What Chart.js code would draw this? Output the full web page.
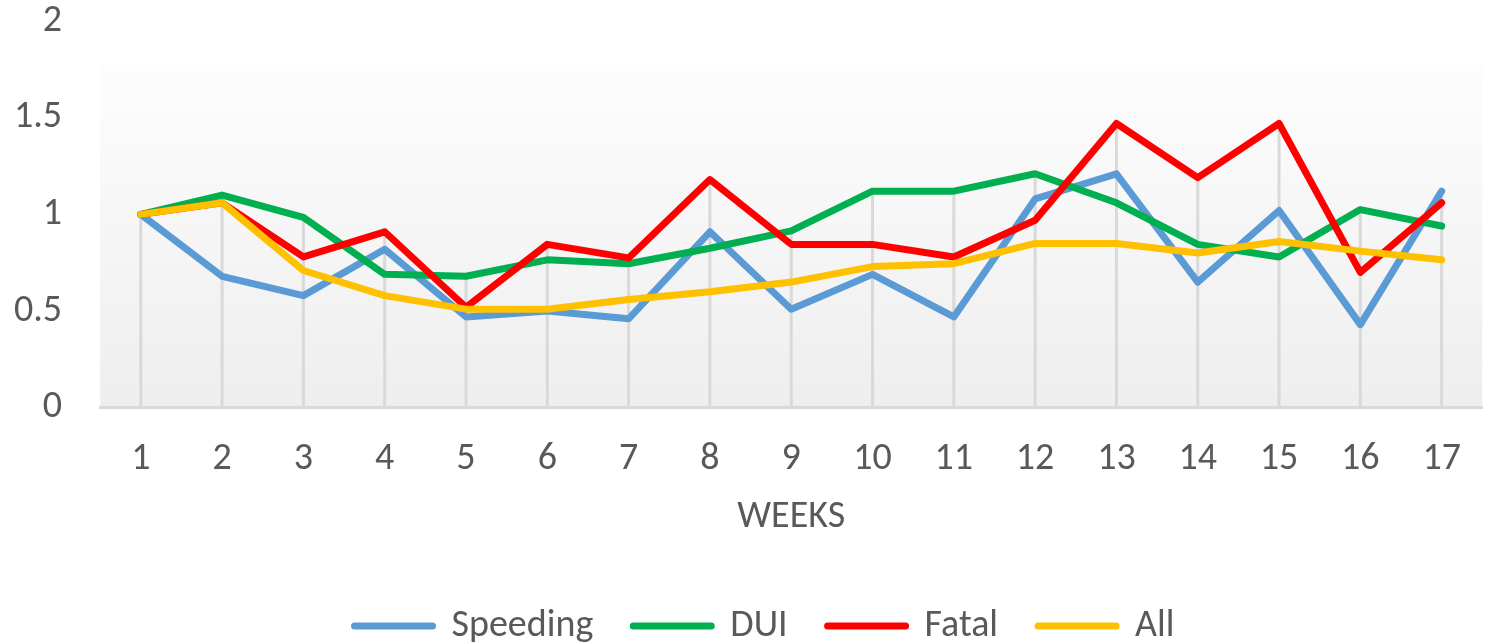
<!DOCTYPE html>
<html>
<head>
<meta charset="utf-8">
<script src="https://cdn.jsdelivr.net/npm/chart.js@4.4.0/dist/chart.umd.min.js"></script>
<style>
	body { margin: 0; background: #fff; }
	#wrap { width: 1490px; height: 644px; }
</style>
</head>
<body>
<div id="wrap"><canvas id="weeksChart"></canvas></div>
<script>
// Weekly ratios
const weeks = ['1', '2', '3', '4', '5', '6', '7', '8', '9', '10', '11', '12', '13', '14', '15', '16', '17'];
const speeding = [1.0, 0.68, 0.58, 0.82, 0.47, 0.5, 0.46, 0.91, 0.51, 0.69, 0.47, 1.08, 1.21, 0.65, 1.02, 0.43, 1.12];
const dui = [1.0, 1.1, 0.985, 0.69, 0.68, 0.765, 0.745, 0.825, 0.915, 1.12, 1.12, 1.21, 1.06, 0.845, 0.78, 1.025, 0.94];
const fatal = [1.0, 1.06, 0.78, 0.91, 0.52, 0.845, 0.775, 1.18, 0.845, 0.845, 0.78, 0.97, 1.47, 1.19, 1.47, 0.7, 1.06];
const all = [1.0, 1.06, 0.71, 0.58, 0.51, 0.51, 0.56, 0.6, 0.65, 0.73, 0.745, 0.85, 0.85, 0.8, 0.86, 0.81, 0.765];
const yTickLabels = ['0', '0.5', '1', '1.5', '2'];

const fontFamily = 'Carlito, Lato, sans-serif';
const textColor = '#595959';

// shaded plot area like the spreadsheet original
const plotShade = {
	id: 'plotShade',
	beforeDraw(chart) {
		const { ctx, chartArea } = chart;
		const g = ctx.createLinearGradient(0, chartArea.top, 0, chartArea.bottom);
		g.addColorStop(0, '#ffffff');
		g.addColorStop(0.11, '#ffffff');
		g.addColorStop(0.12, '#fdfdfd');
		g.addColorStop(1, '#eeeeee');
		ctx.save();
		ctx.fillStyle = g;
		ctx.fillRect(chartArea.left, chartArea.top, chartArea.right - chartArea.left, chartArea.bottom - chartArea.top);
		ctx.restore();
	}
};

// drop lines from the highest series value down to the axis
const dropLines = {
	id: 'dropLines',
	beforeDatasetsDraw(chart) {
		const { ctx, chartArea, scales } = chart;
		const sets = chart.data.datasets;
		ctx.save();
		ctx.strokeStyle = '#d9d9d9';
		ctx.lineWidth = 3;
		chart.data.labels.forEach((lab, i) => {
			const top = Math.max(...sets.map(ds => ds.data[i]));
			const x = scales.x.getPixelForValue(i);
			ctx.beginPath();
			ctx.moveTo(x, scales.y.getPixelForValue(top));
			ctx.lineTo(x, chartArea.bottom);
			ctx.stroke();
		});
		ctx.restore();
	}
};

// legend sits a bit right of centre in the original
const legendNudge = {
	id: 'legendNudge',
	afterLayout(chart) {
		chart.legend.left += 33;
		chart.legend.right += 33;
	}
};

function lineSet(label, data, color, order) {
	return {
		label: label,
		data: data,
		borderColor: color,
		backgroundColor: color,
		borderWidth: 7,
		borderCapStyle: 'round',
		borderJoinStyle: 'round',
		pointRadius: 0,
		pointHoverRadius: 0,
		tension: 0,
		fill: false,
		order: order
	};
}

document.addEventListener('DOMContentLoaded', function () {
	const ctx = document.getElementById('weeksChart').getContext('2d');
	const weeksChart = new Chart(ctx, {
		type: 'line',
		data: {
			labels: weeks,
			datasets: [
				lineSet('Speeding', speeding, '#5B9BD5', 4),
				lineSet('DUI', dui, '#00B050', 3),
				lineSet('Fatal', fatal, '#FF0000', 2),
				lineSet('All', all, '#FFC000', 1)
			]
		},
		options: {
			responsive: true,
			maintainAspectRatio: false,
			animation: false,
			layout: {
				padding: { left: -24, right: 3, top: 0, bottom: -11 }
			},
			plugins: {
				legend: {
					position: 'bottom',
					reverse: true,
					labels: {
						boxWidth: 78,
						boxHeight: 0,
						padding: 40,
						color: textColor,
						font: { family: fontFamily, size: 38 }
					}
				},
				tooltip: { enabled: false }
			},
			scales: {
				x: {
					offset: true,
					grid: { display: false, drawTicks: false },
					border: { color: '#d9d9d9', width: 3 },
					ticks: {
						padding: 29,
						color: textColor,
						font: { family: fontFamily, size: 38 }
					},
					title: {
						display: true,
						text: 'WEEKS',
						color: textColor,
						font: { family: fontFamily, size: 38 },
						padding: { top: -17, bottom: 27 }
					}
				},
				y: {
					min: 0,
					max: 2,
					grid: { display: false, drawTicks: false },
					border: { display: false },
					ticks: {
						stepSize: 0.5,
						padding: 38,
						color: textColor,
						font: { family: fontFamily, size: 38 },
						callback: function (value, index) {
							return yTickLabels[index];
						}
					},
					afterFit: function (scale) {
						scale.paddingTop = 21;
						scale.paddingBottom = 0;
					}
				}
			}
		},
		plugins: [plotShade, dropLines, legendNudge]
	});
});
</script>
</body>
</html>
